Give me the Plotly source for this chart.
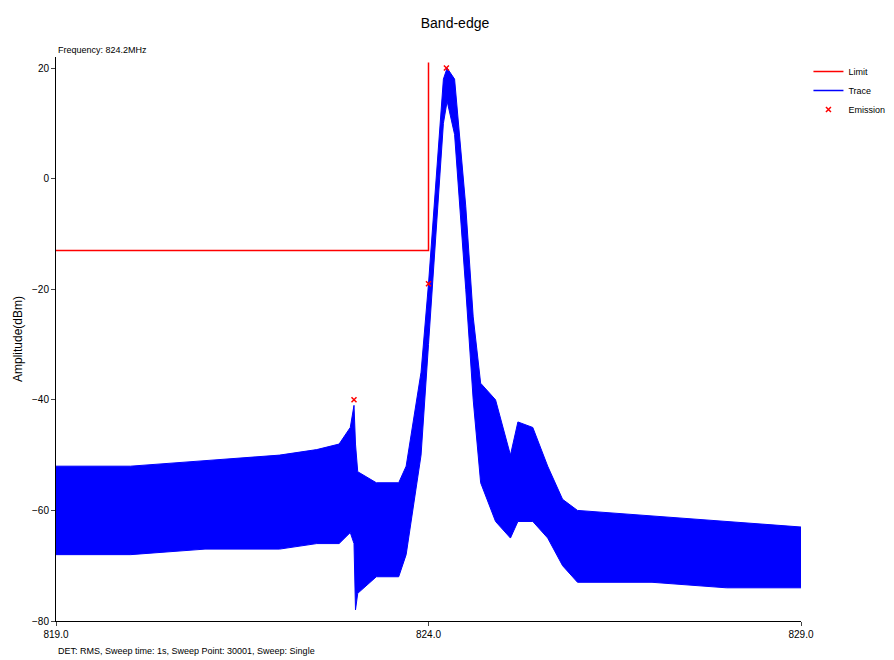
import plotly.graph_objects as go

# trace envelope (MHz, dBm)
freq = [819.0, 820.0, 821.0, 822.0, 822.5, 822.8, 822.95, 823.0, 823.02, 823.05, 823.3, 823.6, 823.7,
        823.9, 824.0, 824.1, 824.2, 824.25, 824.35, 824.5, 824.6, 824.7, 824.9, 825.1, 825.2,
        825.4, 825.6, 825.8, 826.0, 827.0, 828.0, 829.0]
upper = [-52, -52, -51, -50, -49, -48, -45, -41, -48, -53, -55, -55, -52,
         -35, -19, 0, 18, 20, 18, -5, -25, -37, -40, -50, -44,
         -45, -52, -58, -60, -61, -62, -63]
lower = [-68, -68, -67, -67, -66, -66, -64, -66, -78, -75, -72, -72, -68,
         -50, -30, -10, 10, 14, 8, -20, -40, -55, -62, -65, -62,
         -62, -65, -70, -73, -73, -74, -74]

limit_x = [819.0, 824.0, 824.0]
limit_y = [-13, -13, 21]

emis_x = [823.0, 824.0, 824.24]
emis_y = [-40, -19, 20]

fig = go.Figure()
fig.add_trace(go.Scatter(x=freq, y=lower, mode='lines', line=dict(color='blue', width=1),
                         showlegend=False, hoverinfo='skip'))
fig.add_trace(go.Scatter(x=freq, y=upper, mode='lines', line=dict(color='blue', width=1),
                         fill='tonexty', fillcolor='blue', showlegend=False, hoverinfo='skip'))
fig.add_trace(go.Scatter(x=limit_x, y=limit_y, mode='lines', name='Limit',
                         line=dict(color='red', width=1.5)))
fig.add_trace(go.Scatter(x=[None], y=[None], mode='lines', name='Trace',
                         line=dict(color='blue', width=1.5)))
fig.add_trace(go.Scatter(x=emis_x, y=emis_y, mode='markers', name='Emission',
                         marker=dict(color='red', symbol='x-thin', size=5,
                                     line=dict(color='red', width=1.5))))

fig.update_layout(
    width=894, height=660, paper_bgcolor='white', plot_bgcolor='white',
    font=dict(family='Liberation Sans, Arial', size=10, color='black'),
    title=dict(text='Band-edge', x=0.5, y=0.985, font=dict(size=14)),
    margin=dict(l=48, r=90, t=49, b=47),
    legend=dict(x=1.01, y=1.0, xanchor='left', yanchor='top', font=dict(size=9),
                bgcolor='rgba(0,0,0,0)', traceorder='normal', tracegroupgap=0,
                itemwidth=30),
    annotations=[
        dict(text='Frequency: 824.2MHz', xref='paper', yref='paper', x=0, y=1.0,
             xanchor='left', yanchor='bottom', showarrow=False, font=dict(size=9)),
        dict(text='DET: RMS, Sweep time: 1s, Sweep Point: 30001, Sweep: Single', xref='paper',
             yref='paper', x=0, y=-0.04, xanchor='left', yanchor='top', showarrow=False,
             font=dict(size=9)),
    ],
)
fig.update_xaxes(range=[819, 829], tickvals=[819, 824, 829], ticktext=['819.0', '824.0', '829.0'],
                 showgrid=False, zeroline=False, showline=True, linecolor='black',
                 ticks='outside', ticklen=4, automargin=False)
fig.update_yaxes(range=[-80, 22], tickvals=[20, 0, -20, -40, -60, -80], showgrid=False,
                 zeroline=False, showline=True, linecolor='black', ticks='outside', ticklen=4,
                 automargin=False, title=dict(text='Amplitude(dBm)', standoff=6))

fig.write_html('out.html')
